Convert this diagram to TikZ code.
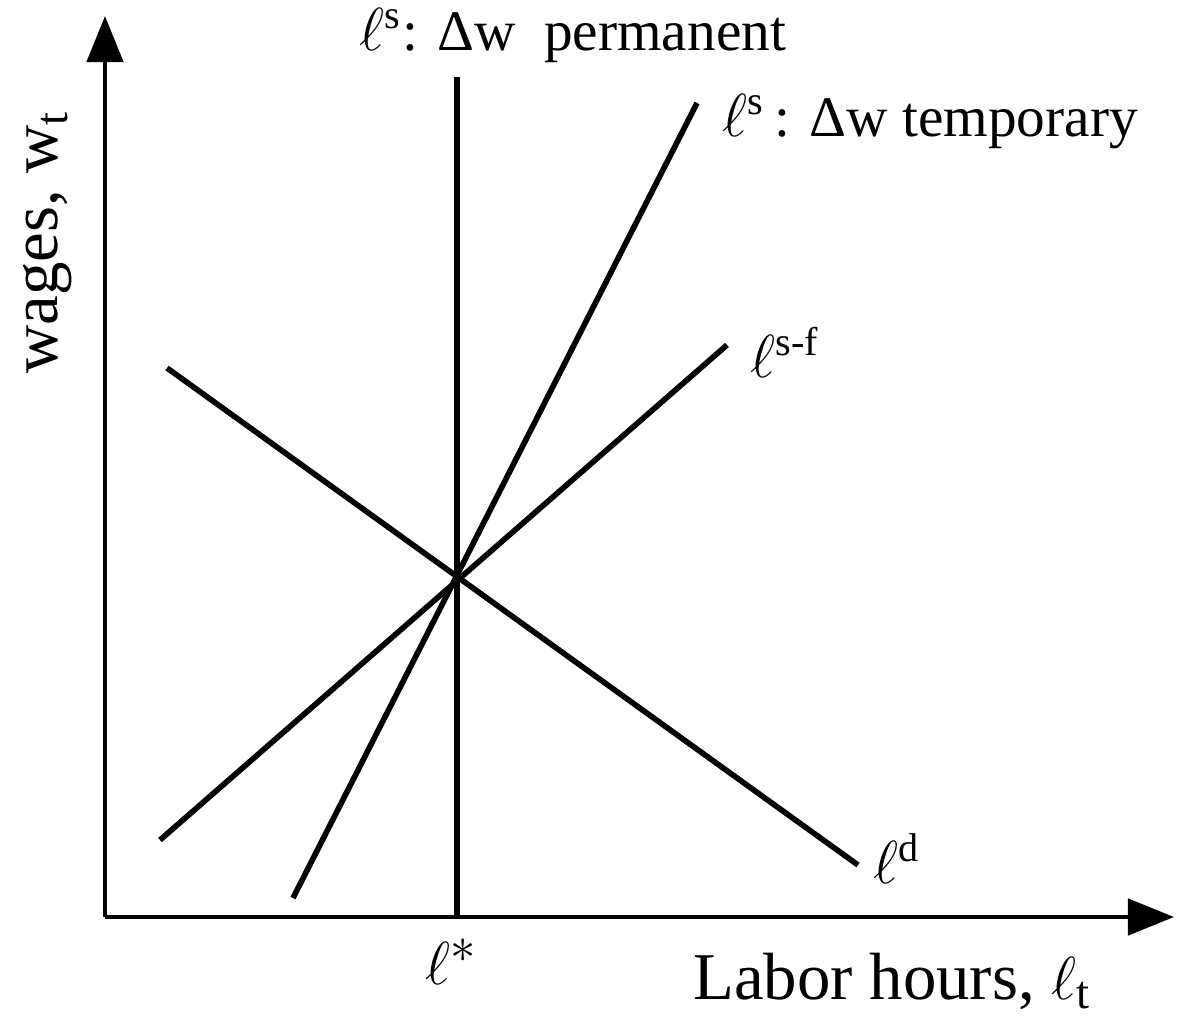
\documentclass[tikz,border=0pt]{standalone}
\usepackage{amsmath}
\usepackage{fontspec}
\setmainfont{Liberation Serif}
\usetikzlibrary{arrows.meta}
\tikzset{
  axarr/.style={-{Triangle[length=4.6mm, width=3.6mm]}, line width=1.3pt},
  crv/.style={line width=1.6pt},
  lbl/.style={font=\fontsize{16.3}{19}\selectfont, inner sep=0pt},
  axlbl/.style={font=\fontsize{19}{23}\selectfont, inner sep=0pt},
}
\begin{document}
\begin{tikzpicture}[x=0.01cm, y=-0.01cm]
  \useasboundingbox (0,0) rectangle (1179,1018);
  % axes
  \coordinate (o) at (105,917);
  \coordinate (ytip) at (105,16);
  \coordinate (xtip) at (1174,917);
  \draw[axarr] (o) -- (ytip);
  \draw[axarr] (o) -- (xtip);
  % curves
  \coordinate (eq) at (457,578);
  \coordinate (pt) at (457,77);
  \coordinate (pb) at (457,917);
  \coordinate (tb) at (293,898);
  \coordinate (tt) at (697,103);
  \coordinate (fb) at (160,840);
  \coordinate (ft) at (727,345);
  \coordinate (dt) at (167,368);
  \coordinate (db) at (858,865);
  \draw[crv] (pb) -- (pt);
  \draw[crv] (tb) -- (tt);
  \draw[crv] (fb) -- (ft);
  \draw[crv] (dt) -- (db);
  % labels
  \node[lbl] (perm) at (573,36) {$\ell^{\text{s}}$: Δw\ \ permanent};
  \node[lbl, anchor=west] (temp) at (722,122) {$\ell^{\text{s}}$\,: Δw temporary};
  \node[lbl, anchor=west] (sf) at (750,352) {$\ell^{\text{s-f}}$};
  \node[lbl, anchor=west] (dem) at (873,859) {$\ell^{\text{d}}$};
  \node[axlbl] (star) at (452,962) {$\ell^{*}$};
  \node[axlbl, anchor=east] (xlab) at (1092,981) {Labor hours, $\ell_{\text{t}}$};
  \node[axlbl, rotate=90] (ylab) at (48,242) {wages, w$_{\text{t}}$};
\end{tikzpicture}
\end{document}
